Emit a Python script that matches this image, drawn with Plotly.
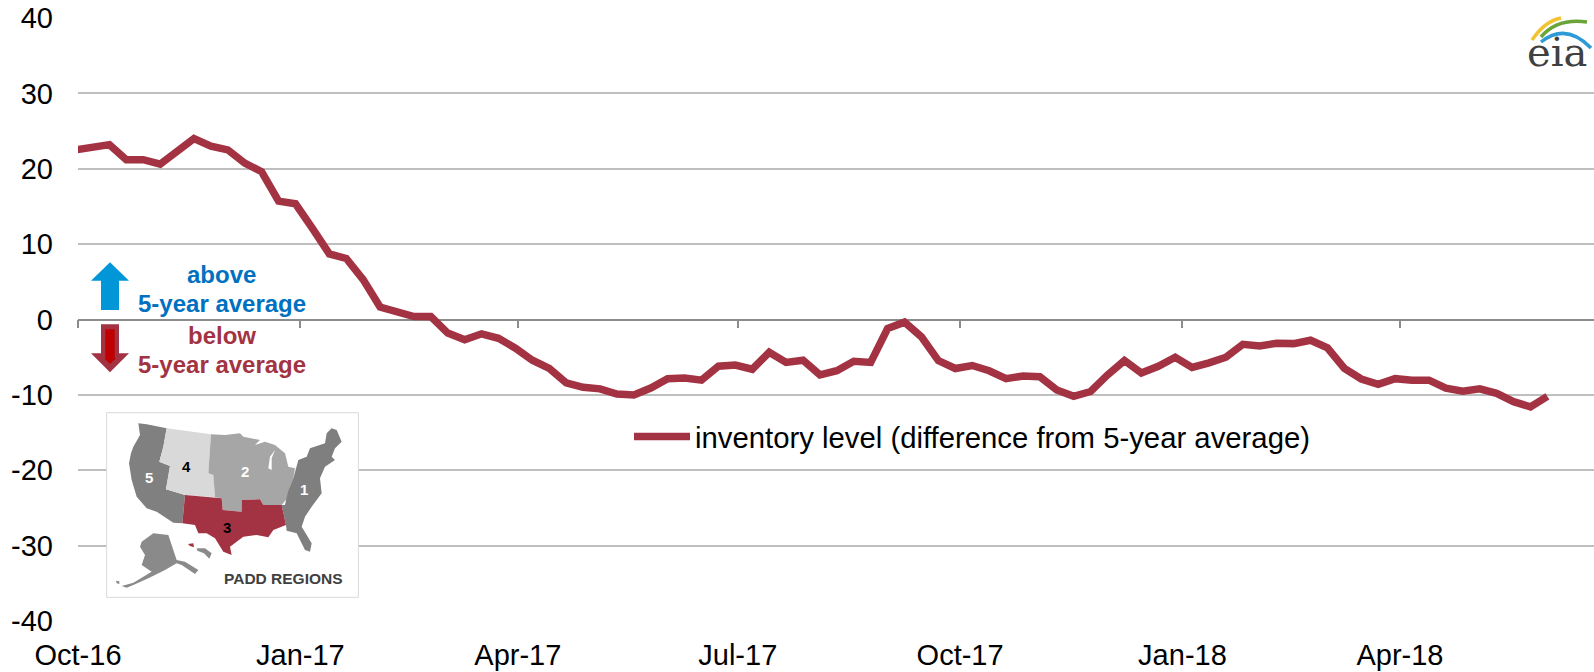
import plotly.graph_objects as go
from datetime import date, timedelta

# ---- data ----
start_date = date(2016, 9, 30)
inventory_values = [
    22.5, 22.8, 23.2, 21.2, 21.2, 20.6, 22.2, 24.0, 23.0, 22.5,
    20.75, 19.6, 15.7, 15.35, 12.1, 8.7, 8.1, 5.3, 1.65, 1.15,
    0.4, 0.4, -1.8, -2.7, -1.9, -2.5, -3.8, -5.4, -6.5, -8.4,
    -9.0, -9.2, -9.9, -10.0, -9.1, -7.85, -7.75, -8.05, -6.2, -6.05,
    -6.6, -4.35, -5.7, -5.4, -7.35, -6.8, -5.55, -5.7, -1.2, -0.35,
    -2.3, -5.45, -6.5, -6.1, -6.8, -7.85, -7.5, -7.6, -9.35, -10.2,
    -9.55, -7.35, -5.45, -7.1, -6.2, -5.0, -6.35, -5.75, -5.0, -3.3,
    -3.5, -3.15, -3.2, -2.75, -3.75, -6.5, -7.9, -8.6, -7.85, -8.05,
    -8.05, -9.1, -9.5, -9.2, -9.8, -10.9, -11.6, -10.2,
]
week_dates = [(start_date + timedelta(days=7 * i)).isoformat() for i in range(len(inventory_values))]
tick_dates = ["2016-10-01", "2017-01-01", "2017-04-01", "2017-07-01", "2017-10-01", "2018-01-01", "2018-04-01"]
tick_labels = ["Oct-16", "Jan-17", "Apr-17", "Jul-17", "Oct-17", "Jan-18", "Apr-18"]
y_ticks = [-40, -30, -20, -10, 0, 10, 20, 30, 40]
y_tick_labels = ["-40", "-30", "-20", "-10", "0", "10", "20", "30", "40"]
series_name = "inventory level (difference from 5-year average)"

# ---- layout constants ----
W, H = 1594, 672
ML, MR, MT, MB = 78, 0, 18, 51
FONT = "Liberation Sans"
LINE = "#A33343"
X_RANGE = ["2016-10-01", "2018-06-20 07:00"]


def px(x):
    return (x - ML) / (W - ML - MR)


def py(y):
    return 1 - (y - MT) / (H - MT - MB)


def zx(x):
    return x / 3


def zy(y):
    return 240 + y / 3


def poly(points, fill, line=None, lw=0):
    d = "M" + " L".join(f"{px(zx(a)):.5f},{py(zy(b)):.5f}" for a, b in points) + " Z"
    return dict(type="path", xref="paper", yref="paper", path=d, fillcolor=fill,
                line=dict(color=line or fill, width=lw), layer="above")


def curve(points, color, lw):
    (a, b), (c, d), (e, f) = points
    p = f"M{px(a):.5f},{py(b):.5f} Q{px(c):.5f},{py(d):.5f} {px(e):.5f},{py(f):.5f}"
    return dict(type="path", xref="paper", yref="paper", path=p,
                line=dict(color=color, width=lw), layer="above")


PADD5 = [(415, 550), (440, 553), (500, 565), (490, 620), (478, 665), (510, 678), (498, 748), (555, 765), (547, 850),
         (520, 848), (470, 815), (440, 805), (410, 770), (395, 720), (387, 670), (393, 640), (400, 620), (420, 585)]
PADD4 = [(500, 565), (633, 583), (625, 700), (640, 705), (645, 772), (555, 765), (498, 748), (510, 678), (478, 665), (490, 620)]
PADD2 = [(633, 583), (675, 585), (720, 580), (730, 590), (780, 600), (765, 615), (795, 605), (825, 615), (855, 640),
         (865, 680), (885, 685), (880, 715), (865, 750), (862, 775), (845, 795), (790, 795), (780, 778), (725, 780),
         (725, 815), (668, 810), (665, 775), (645, 772), (640, 705), (625, 700)]
LAKE = [(825, 630), (810, 650), (805, 685), (815, 690), (815, 655)]
PADD3 = [(555, 765), (665, 775), (668, 810), (725, 815), (725, 780), (780, 778), (790, 795), (845, 795), (858, 855),
         (820, 870), (805, 892), (770, 885), (730, 890), (690, 920), (695, 945), (670, 935), (645, 895), (620, 880),
         (595, 880), (585, 855), (547, 850)]
PADD1 = [(980, 580), (995, 565), (1010, 570), (1025, 605), (1005, 625), (995, 650), (1005, 660), (975, 680), (960, 715),
         (965, 760), (935, 800), (915, 830), (905, 860), (935, 910), (930, 935), (915, 930), (890, 880), (860, 872),
         (858, 855), (845, 795), (855, 795), (865, 750), (880, 715), (895, 660), (920, 650), (930, 625), (975, 610)]
ALASKA = [(425, 905), (460, 880), (505, 885), (530, 960), (555, 965), (595, 990), (585, 1002), (545, 975), (530, 970),
          (495, 990), (465, 1005), (445, 1015), (400, 1035), (380, 1043), (365, 1038), (400, 1028), (455, 995),
          (425, 975), (435, 945), (420, 920)]
ALEUT = [(348, 1022), (358, 1024), (358, 1032), (350, 1030)]
HAWAII_W = [(564, 912), (580, 910), (582, 922), (570, 918)]
HAWAII_E = [(590, 925), (615, 925), (635, 940), (628, 956), (612, 940), (592, 932)]
BOX = [(320, 518), (1075, 518), (1075, 1072), (320, 1072)]
ARROW_UP = [(330, 67), (387, 122), (357, 122), (357, 210), (303, 210), (303, 122), (273, 122)]
ARROW_DOWN = [(303, 253), (357, 253), (357, 340), (387, 340), (330, 397), (273, 340), (303, 340)]
ARROW_DOWN_IN = [(316, 268), (344, 268), (344, 355), (348, 355), (330, 372), (313, 355), (316, 355)]

shapes = [
    poly(BOX, "#FFFFFF", "#D9D9D9", 1),
    poly(PADD5, "#808080"), poly(PADD4, "#D9D9D9"), poly(PADD2, "#A6A6A6"), poly(LAKE, "#FFFFFF"),
    poly(PADD1, "#7F7F7F"), poly(PADD3, LINE), poly(ALASKA, "#8A8A8A"), poly(ALEUT, "#8A8A8A"),
    poly(HAWAII_W, LINE), poly(HAWAII_E, "#8A8A8A"),
    poly(ARROW_UP, "#0096D7"), poly(ARROW_DOWN, LINE), poly(ARROW_DOWN_IN, "#C00000"),
    curve([(1532, 40), (1545, 21), (1561, 18)], "#F2C230", 3.5),
    curve([(1541, 37), (1557, 18), (1587, 22)], "#6BA539", 3.5),
    curve([(1541, 42), (1566, 22), (1591, 48)], "#2E9BD6", 3.5),
]


def note(text, x, y, size, color, bold=False, family=FONT):
    return dict(text=f"<b>{text}</b>" if bold else text, xref="paper", yref="paper", x=px(x), y=py(y),
                xanchor="center", yanchor="middle", showarrow=False,
                font=dict(family=family, size=size, color=color))


annotations = [
    note("above", 221.7, 275, 24, "#0070C0", True),
    note("5-year average", 221.7, 303, 24, "#0070C0", True),
    note("below", 221.7, 335, 24, LINE, True),
    note("5-year average", 221.7, 364.5, 24, LINE, True),
    note("PADD REGIONS", 283.5, 578, 15.5, "#404040", True),
    note("5", zx(446), zy(712), 15, "#FFFFFF", True),
    note("4", zx(558), zy(680), 15, "#000000", True),
    note("2", zx(735), zy(693), 15, "#FFFFFF", True),
    note("1", zx(913), zy(747), 15, "#FFFFFF", True),
    note("3", zx(680), zy(861), 15, "#000000", True),
    note("eia", 1556.5, 52, 40, "#404040", False, "DejaVu Serif"),
]

fig = go.Figure()
fig.add_trace(go.Scatter(x=tick_dates, y=[0] * len(tick_dates), xaxis="x2", mode="lines",
                         line=dict(width=0), hoverinfo="skip", showlegend=False))
fig.add_trace(go.Scatter(x=week_dates, y=inventory_values, mode="lines", name=series_name,
                         line=dict(color=LINE, width=7.5)))
fig.update_layout(
    width=W, height=H, autosize=False,
    margin=dict(l=ML, r=MR, t=MT, b=MB, pad=0),
    paper_bgcolor="#FFFFFF", plot_bgcolor="#FFFFFF",
    font=dict(family=FONT, color="#000000"),
    xaxis=dict(type="date", range=X_RANGE, tickvals=tick_dates, ticktext=tick_labels, ticks="",
               showgrid=False, zeroline=False, showline=False, ticklabelstandoff=14,
               tickfont=dict(family=FONT, size=29, color="#000000")),
    xaxis2=dict(type="date", range=X_RANGE, overlaying="x", anchor="free", position=0.5, side="bottom",
                tickvals=tick_dates, ticks="outside", ticklen=8, tickwidth=1.5, tickcolor="#8C8C8C",
                showticklabels=False, showgrid=False, zeroline=False, showline=True,
                linecolor="#8C8C8C", linewidth=1.5, layer="below traces"),
    yaxis=dict(range=[-40, 40], tickvals=y_ticks, ticktext=y_tick_labels, showgrid=True,
               gridcolor="#BFBFBF", gridwidth=1.5,
               zeroline=False, showline=False, ticks="", ticklabelstandoff=24,
               tickfont=dict(family=FONT, size=29, color="#000000")),
    showlegend=True,
    legend=dict(x=px(629), y=py(437), xanchor="left", yanchor="middle", bgcolor="rgba(0,0,0,0)",
                itemwidth=56, font=dict(family=FONT, size=29.3, color="#000000"), borderwidth=0),
    shapes=shapes, annotations=annotations,
)
fig.write_html("out.html", config=dict(displayModeBar=False),
               post_script="document.body.style.margin='0';document.body.style.overflow='hidden';")
